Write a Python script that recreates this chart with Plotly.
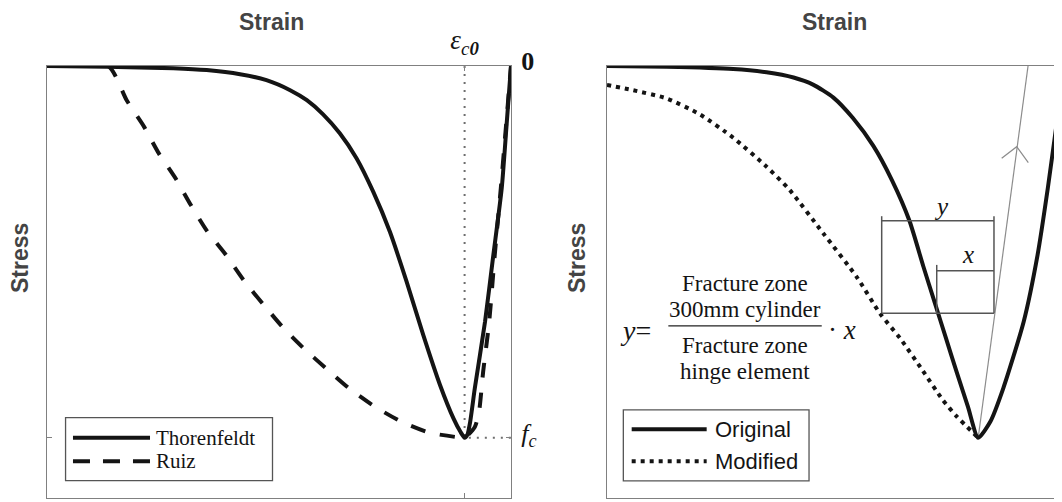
import plotly.graph_objects as go

# ---------------- data ----------------
# Left panel: strain in multiples of eps_c0 (negative = compression), stress in multiples of f_c
thor_strain = [-10.0, -8.71, -7.28, -6.56, -5.84, -5.27, -4.76, -4.40, -4.05, -3.69, -3.33,
               -2.97, -2.61, -2.25, -1.89, -1.53, -1.24, -1.09, -1.0, -0.94, -0.88, -0.78,
               -0.56, -0.38, -0.20, -0.09, 0.0]
thor_stress = [0.0, -0.002, -0.006, -0.011, -0.022, -0.038, -0.065, -0.092, -0.130, -0.181, -0.248,
               -0.338, -0.446, -0.580, -0.724, -0.858, -0.948, -0.984, -1.0, -0.992, -0.957, -0.867,
               -0.688, -0.508, -0.329, -0.150, 0.0]

ruiz_strain = [-10.0, -8.68, -8.28, -7.91, -7.59, -7.23, -6.90, -6.55, -6.15, -5.75, -5.34,
               -4.91, -4.48, -3.99, -3.49, -2.95, -2.36, -1.77, -1.12, -1.0, -0.78, -0.69,
               -0.60, -0.47, -0.35, -0.22, -0.13, -0.04, 0.0]
ruiz_stress = [0.0, 0.0, -0.093, -0.163, -0.235, -0.302, -0.374, -0.444, -0.507, -0.578, -0.641,
               -0.704, -0.758, -0.813, -0.867, -0.915, -0.957, -0.986, -0.999, -1.0, -0.971, -0.931,
               -0.822, -0.688, -0.508, -0.329, -0.195, -0.060, 0.0]

peak_guide_strain = [-1.0, -1.0, 0.0]
peak_guide_stress = [0.0, -1.0, -1.0]

# Right panel
orig_strain = [-5.0, -4.36, -3.64, -3.28, -2.99, -2.78, -2.56, -2.35, -2.13, -1.93, -1.74,
               -1.59, -1.47, -1.35, -1.23, -1.11, -1.0, -0.87, -0.73, -0.51, -0.36, -0.25,
               -0.16, -0.097, -0.075]
orig_stress = [0.0, -0.002, -0.008, -0.017, -0.031, -0.050, -0.085, -0.140, -0.215, -0.307, -0.417,
               -0.540, -0.635, -0.730, -0.825, -0.917, -1.0, -0.957, -0.867, -0.688, -0.508, -0.329,
               -0.165, -0.065, 0.0]

mod_strain = [-5.0, -4.72, -4.36, -4.00, -3.64, -3.28, -3.03, -2.67, -2.31, -2.06, -1.84,
              -1.61, -1.38, -1.23, -1.0]
mod_stress = [-0.051, -0.065, -0.087, -0.130, -0.193, -0.271, -0.334, -0.450, -0.567, -0.665, -0.733,
              -0.815, -0.899, -0.943, -1.0]

ray_strain = [-1.0, -0.463]
ray_stress = [-1.0, 0.0]
chevron_strain = [-0.747, -0.585, -0.460]
chevron_stress = [-0.248, -0.217, -0.260]

# dimension boxes (y and x) in right panel data units
box_left, box_right, box_inner = -2.04, -0.83, -1.447
box_top_tick, box_top, box_bottom = -0.404, -0.416, -0.665
inner_tick, inner_top = -0.535, -0.551

left_x_range = [-10.0, 0.0]
right_x_range = [-5.0, -0.097]
y_range = [-1.162, 0.0]
left_ticks = [-1.0]
left_ticktext = ["<i>ε</i><sub><i>c<b>0</b></i></sub>"]
stress_ticks = [-1.0, 0.0]
stress_ticktext = ["<i>f</i><sub><i>c</i></sub>", "<b>0</b>"]

# ---------------- figure ----------------
PAGE_OFF = 8            # default body margin of the html page
W, H = 1062 - PAGE_OFF, 502 - PAGE_OFF
INK = "#141414"
FRAME = "#808080"
SERIF = "Liberation Serif"
SANS = "Liberation Sans"

def fx(px):   # page pixel -> paper x
    return (px - PAGE_OFF) / W

def fy(py):   # page pixel -> paper y
    return (H - (py - PAGE_OFF)) / H

fig = go.Figure()

# left panel
fig.add_trace(go.Scatter(x=peak_guide_strain, y=peak_guide_stress, xaxis="x", yaxis="y",
                         mode="lines", line=dict(color="#6e6e6e", width=2, dash="2px,6px"),
                         hoverinfo="skip", showlegend=False))
fig.add_trace(go.Scatter(x=ruiz_strain, y=ruiz_stress, xaxis="x", yaxis="y", name="Ruiz",
                         mode="lines", line=dict(color=INK, width=4, dash="15px,15px",
                                                 shape="spline", smoothing=0.6),
                         showlegend=False))
fig.add_trace(go.Scatter(x=thor_strain, y=thor_stress, xaxis="x", yaxis="y", name="Thorenfeldt",
                         mode="lines", line=dict(color=INK, width=4, shape="spline", smoothing=0.6),
                         showlegend=False))

# right panel
fig.add_trace(go.Scatter(x=ray_strain, y=ray_stress, xaxis="x2", yaxis="y2", mode="lines",
                         line=dict(color="#8c8c8c", width=1.2), hoverinfo="skip", showlegend=False))
fig.add_trace(go.Scatter(x=chevron_strain, y=chevron_stress, xaxis="x2", yaxis="y2", mode="lines",
                         line=dict(color="#8c8c8c", width=1.2), hoverinfo="skip", showlegend=False))
fig.add_trace(go.Scatter(x=mod_strain, y=mod_stress, xaxis="x2", yaxis="y2", name="Modified",
                         mode="lines", line=dict(color=INK, width=4, dash="4px,5px",
                                                 shape="spline", smoothing=0.6),
                         showlegend=False))
fig.add_trace(go.Scatter(x=orig_strain, y=orig_stress, xaxis="x2", yaxis="y2", name="Original",
                         mode="lines", line=dict(color=INK, width=4, shape="spline", smoothing=0.6),
                         showlegend=False))

shapes = []
def seg(xref, yref, x0, y0, x1, y1, color="#555555", width=1.5, dash=None):
    d = dict(type="line", xref=xref, yref=yref, x0=x0, y0=y0, x1=x1, y1=y1,
             line=dict(color=color, width=width), layer="above")
    if dash:
        d["line"]["dash"] = dash
    shapes.append(d)

# dimension boxes
seg("x2", "y2", box_left, box_top_tick, box_left, box_bottom)
seg("x2", "y2", box_right, box_top_tick, box_right, box_bottom)
seg("x2", "y2", box_left, box_top, box_right, box_top)
seg("x2", "y2", box_left, box_bottom, box_right, box_bottom)
seg("x2", "y2", box_inner, inner_tick, box_inner, box_bottom)
seg("x2", "y2", box_inner, inner_top, box_right, inner_top)
# fraction bar
seg("x2", "y2", -4.339, -0.699, -2.686, -0.699, color="#222222", width=1.3)

# left legend
shapes.append(dict(type="rect", xref="x", yref="y", x0=-9.60, x1=-5.14, y0=-0.946, y1=-1.115,
                   line=dict(color="#555555", width=1.3), fillcolor="white", layer="above"))
seg("x", "y", -9.44, -1.0, -7.78, -1.0, color=INK, width=4)
seg("x", "y", -9.44, -1.063, -7.78, -1.063, color=INK, width=4, dash="17px,13px")
# right legend
shapes.append(dict(type="rect", xref="x2", yref="y2", x0=-4.824, x1=-2.823, y0=-0.925, y1=-1.116,
                   line=dict(color="#555555", width=1.3), fillcolor="white", layer="above"))
seg("x2", "y2", -4.734, -0.977, -3.926, -0.977, color=INK, width=4)
seg("x2", "y2", -4.734, -1.063, -3.926, -1.063, color=INK, width=4, dash="4px,5px")

ann = []
def txt(text, x, y, xref, yref, size, family=SERIF, color="black", xanchor="center", textangle=0):
    ann.append(dict(text=text, x=x, y=y, xref=xref, yref=yref, showarrow=False,
                    font=dict(family=family, size=size, color=color), xanchor=xanchor,
                    yanchor="middle", textangle=textangle))

# panel titles
txt("<b>Strain</b>", fx(271), fy(22), "paper", "paper", 23, SANS, "#444444")
txt("<b>Strain</b>", fx(834), fy(22), "paper", "paper", 23, SANS, "#444444")
txt("<b>Stress</b>", fx(20), fy(258), "paper", "paper", 23, SANS, "#444444", textangle=-90)
txt("<b>Stress</b>", fx(577), fy(258), "paper", "paper", 23, SANS, "#444444", textangle=-90)

# legends text
txt("Thorenfeldt", -7.70, -1.0, "x", "y", 21, SERIF, INK, "left")
txt("Ruiz", -7.70, -1.063, "x", "y", 21, SERIF, INK, "left")
txt("Original", -3.86, -0.977, "x2", "y2", 22, SANS, INK, "left")
txt("Modified", -3.86, -1.063, "x2", "y2", 22, SANS, INK, "left")

# equation
txt("<i>y</i>=", -4.69, -0.712, "x2", "y2", 28, SERIF, INK)
txt("Fracture zone", -3.513, -0.585, "x2", "y2", 23, SERIF, INK)
txt("300mm cylinder", -3.513, -0.656, "x2", "y2", 23, SERIF, INK)
txt("Fracture zone", -3.513, -0.751, "x2", "y2", 23, SERIF, INK)
txt("hinge element", -3.513, -0.821, "x2", "y2", 23, SERIF, INK)
txt("· <i>x</i>", -2.47, -0.710, "x2", "y2", 27, SERIF, INK)
txt("<i>y</i>", -1.395, -0.379, "x2", "y2", 25, SERIF, INK)
txt("<i>x</i>", -1.107, -0.507, "x2", "y2", 25, SERIF, INK)

axis_common = dict(showgrid=False, zeroline=False, showline=True, linecolor=FRAME, linewidth=1.3,
                   fixedrange=True, automargin=False)

fig.update_layout(
    template="none",
    width=W, height=H, margin=dict(l=0, r=0, t=0, b=0, pad=0), autosize=False,
    paper_bgcolor="white", plot_bgcolor="white", showlegend=False,
    xaxis=dict(domain=[fx(47), fx(511)], range=left_x_range, anchor="y", side="top",
               mirror="ticks", ticks="inside", ticklen=5, tickcolor=FRAME, tickwidth=1.3,
               tickvals=left_ticks, ticktext=left_ticktext, ticklabelstandoff=5,
               tickfont=dict(family=SERIF, size=27, color=INK), **axis_common),
    yaxis=dict(domain=[fy(498), fy(66)], range=y_range, anchor="x", side="right",
               mirror="ticks", ticks="inside", ticklen=5, tickcolor=FRAME, tickwidth=1.3,
               tickvals=stress_ticks, ticktext=stress_ticktext, ticklabelshift=-5,
               ticklabelstandoff=4, tickfont=dict(family=SERIF, size=26, color=INK), **axis_common),
    xaxis2=dict(domain=[fx(607), 1.0], range=right_x_range, anchor="y2", mirror=True,
                ticks="", showticklabels=False, **axis_common),
    yaxis2=dict(domain=[fy(498), fy(66)], range=y_range, anchor="x2", mirror=False,
                ticks="", showticklabels=False, **axis_common),
    shapes=shapes, annotations=ann,
)

fig.write_html("out.html")
